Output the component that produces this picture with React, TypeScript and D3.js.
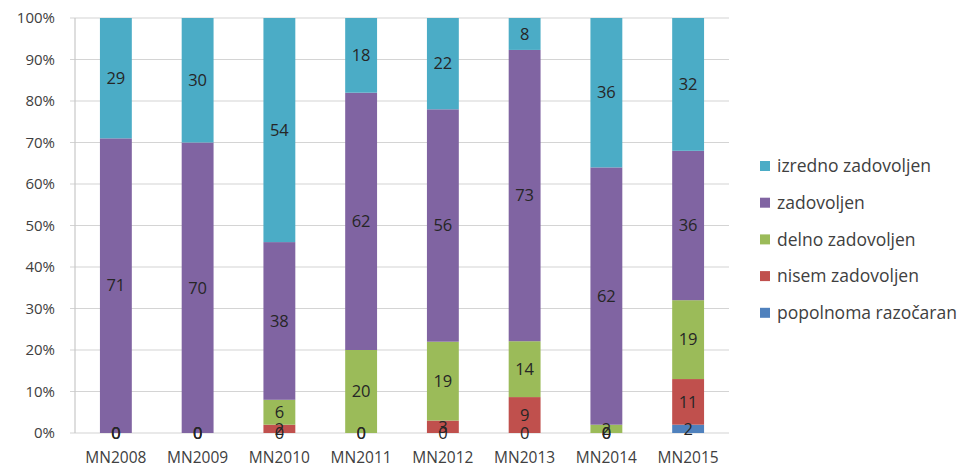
import React from "react";
import * as d3 from "d3";

const categories = ["MN2008", "MN2009", "MN2010", "MN2011", "MN2012", "MN2013", "MN2014", "MN2015"];
const seriesNames = ["popolnoma razočaran", "nisem zadovoljen", "delno zadovoljen", "zadovoljen", "izredno zadovoljen"];
const popolnoma = [0, 0, 0, 0, 0, 0, 0, 2];
const nisem = [0, 0, 2, 0, 3, 9, 0, 11];
const delno = [0, 0, 6, 20, 19, 14, 2, 19];
const zadovoljen = [71, 70, 38, 62, 56, 73, 62, 36];
const izredno = [29, 30, 54, 18, 22, 8, 36, 32];
const yTicks = [0, 0.1, 0.2, 0.3, 0.4, 0.5, 0.6, 0.7, 0.8, 0.9, 1];
const colors = ["#4F81BD", "#C0504D", "#9BBB59", "#8064A2", "#4BACC6"];

const W = 967, H = 471;
const left = 75, right = 729, top = 18, bottom = 433;
const font = "Open Sans, Liberation Sans, sans-serif";

export default function App() {
  const series = [popolnoma, nisem, delno, zadovoljen, izredno];
  const x = d3.scaleBand().domain(categories).range([left, right]).paddingInner(0.61).paddingOuter(0.305);
  const y = d3.scaleLinear().domain([0, 1]).range([bottom, top]);
  const fmt = d3.format(".0%");

  const rects: any[] = [];
  const labels: any[] = [];
  categories.forEach((c, i) => {
    const total = d3.sum(series, (s) => s[i]);
    let cum = 0;
    series.forEach((s, k) => {
      const v = s[i];
      const y0 = cum / total;
      const y1 = (cum + v) / total;
      cum += v;
      if (v > 0) {
        rects.push(
          <rect key={`r${i}-${k}`} x={x(c)} width={x.bandwidth()} y={y(y1)} height={y(y0) - y(y1)} fill={colors[k]} />
        );
      }
      labels.push(
        <text key={`t${i}-${k}`} x={(x(c) as number) + x.bandwidth() / 2} y={(y(y0) + y(y1)) / 2} dy="0.35em"
          textAnchor="middle" fontSize={16.5} fill="#262626" fontFamily={font}>{v}</text>
      );
    });
  });

  return (
    <svg width={W} height={H} style={{ position: "absolute", left: 0, top: 0, background: "#fff" }}>
      {yTicks.map((t) => (
        <g key={t}>
          <line x1={left - 5} x2={right} y1={y(t)} y2={y(t)} stroke="#d4d4d4" strokeWidth={1.2} />
          <text x={left - 20} y={y(t)} dy="0.35em" textAnchor="end" fontSize={15} fill="#404040" fontFamily={font}>{fmt(t)}</text>
        </g>
      ))}
      <line x1={left} x2={left} y1={top} y2={bottom} stroke="#c8c8c8" strokeWidth={1.2} />
      {rects}
      {labels}
      {categories.map((c) => (
        <text key={c} x={(x(c) as number) + x.bandwidth() / 2} y={bottom + 25} dy="0.35em" textAnchor="middle"
          fontSize={15.5} fill="#404040" fontFamily={font}>{c}</text>
      ))}
      {seriesNames.slice().reverse().map((n, j) => {
        const k = seriesNames.length - 1 - j;
        const yy = 166 + j * 36.7;
        return (
          <g key={n}>
            <rect x={760} y={yy - 5} width={10} height={10} fill={colors[k]} />
            <text x={777} y={yy} dy="0.35em" fontSize={17.5} fill="#404040" fontFamily={font}>{n}</text>
          </g>
        );
      })}
    </svg>
  );
}
